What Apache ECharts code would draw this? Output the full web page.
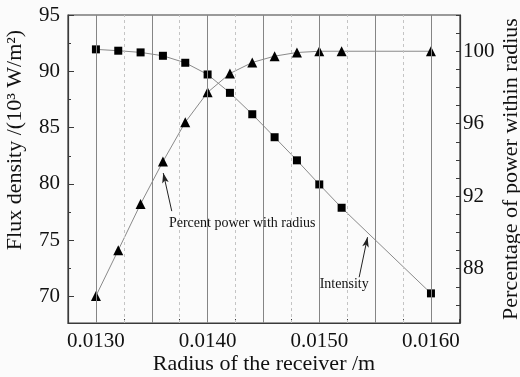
<!DOCTYPE html>
<html>
<head>
<meta charset="utf-8">
<script src="https://cdn.jsdelivr.net/npm/echarts@6/dist/echarts.min.js"></script>
<style>
  html, body { margin: 0; padding: 0; background: #fbfbfb; }
  #chart { width: 520px; height: 377px; }
</style>
</head>
<body>
<div id="chart"></div>
<script>
// receiver radius (m)
const radius = [0.0130, 0.0132, 0.0134, 0.0136, 0.0138, 0.0140, 0.0142, 0.0144, 0.0146, 0.0148, 0.0150, 0.0152, 0.0160];
// flux density, 10^3 W/m^2 (left axis)
const intensity = [91.95, 91.83, 91.68, 91.38, 90.76, 89.72, 88.09, 86.19, 84.15, 82.10, 79.96, 77.89, 70.29];
// percentage of power within radius (right axis)
const percentPower = [86.49, 89.02, 91.57, 93.91, 96.08, 97.73, 98.77, 99.38, 99.73, 99.93, 100.0, 100.0, 100.0];

// axis ranges
const xRange = [0.01275, 0.01626];
const fluxRange = [67.66, 95];
const pctRange = [85, 102];

// vertical grid lines
const majorGridX = [0.0130, 0.0135, 0.0140, 0.0145, 0.0150, 0.0155, 0.0160];
const minorGridX = [0.01325, 0.01375, 0.01425, 0.01475, 0.01525, 0.01575];

// annotations, in left-axis coordinates
const noteLabels = ["Percent power with radius", "Intensity"];
const noteTextAt = [[0.013654, 76.52], [0.015223, 71.07]];
const noteAlign = ["left", "center"];
const arrowFrom = [[0.013679, 77.59], [0.015357, 71.72]];
const arrowTo = [[0.013603, 80.97], [0.015432, 75.28]];

const FONT = "Liberation Serif";
const ink = "#111";
const axisColor = "#3a3a3a";

const chart = echarts.init(document.getElementById("chart"));

const isThousandth = (v) => Math.abs(v * 1000 - Math.round(v * 1000)) < 1e-6;
const intensityPts = radius.map((r, i) => [r, intensity[i]]);
const vline = (x, style) => [
  { coord: [x, fluxRange[0]], lineStyle: style },
  { coord: [x, fluxRange[1]] },
];

chart.setOption({
  animation: false,
  backgroundColor: "#fbfbfb",
  textStyle: { fontFamily: FONT, color: ink },
  grid: {
    left: 68, right: 60, top: 15, bottom: 54,
    outerBoundsMode: "none",
    show: true, borderColor: axisColor, borderWidth: 1.2,
    backgroundColor: "transparent",
  },
  xAxis: {
    type: "value",
    min: xRange[0],
    max: xRange[1],
    interval: 0.00025,
    name: "Radius of the receiver /m",
    nameLocation: "middle",
    nameMoveOverlap: false,
    nameGap: 30,
    nameTextStyle: { fontFamily: FONT, fontSize: 22, color: ink },
    axisLine: { show: true, lineStyle: { color: axisColor, width: 1.2 } },
    axisTick: { show: true, inside: true, length: 4, lineStyle: { color: axisColor } },
    axisLabel: {
      fontFamily: FONT, fontSize: 21, color: ink, margin: 8,
      showMinLabel: false, showMaxLabel: false,
      formatter: (v) => (isThousandth(v) ? v.toFixed(4) : ""),
    },
    splitLine: { show: false },
  },
  yAxis: [
    {
      type: "value",
      min: fluxRange[0],
      max: fluxRange[1],
      name: "Flux density /(10³ W/m²)",
      nameLocation: "middle",
      nameMoveOverlap: false,
      nameRotate: 90,
      nameGap: 42,
      nameTextStyle: { fontFamily: FONT, fontSize: 22, color: ink, padding: [0, 0, 0, 58] },
      axisLine: { show: true, lineStyle: { color: axisColor, width: 1.2 } },
      axisTick: { show: true, inside: true, length: 6, lineStyle: { color: axisColor } },
      minorTick: { show: true, splitNumber: 2, length: 3, lineStyle: { color: axisColor } },
      axisLabel: { fontFamily: FONT, fontSize: 21, color: ink, margin: 8, showMinLabel: false },
      splitLine: { show: false },
    },
    {
      type: "value",
      position: "right",
      min: pctRange[0],
      max: pctRange[1],
      interval: 1,
      name: "Percentage of power within radius",
      nameLocation: "middle",
      nameMoveOverlap: false,
      nameRotate: 90,
      nameGap: 40,
      nameTextStyle: { fontFamily: FONT, fontSize: 22, color: ink },
      axisLine: { show: true, lineStyle: { color: axisColor, width: 1.2 } },
      axisTick: { show: true, inside: true, length: 4, lineStyle: { color: axisColor } },
      axisLabel: {
        fontFamily: FONT, fontSize: 21, color: ink, margin: 3,
        formatter: (v) => (Math.round(v) % 4 === 0 ? String(Math.round(v)) : ""),
      },
      splitLine: { show: false },
    },
  ],
  series: [
    {
      // invisible carrier for the vertical grid lines
      name: "grid",
      type: "line",
      data: intensityPts,
      showSymbol: false,
      lineStyle: { opacity: 0 },
      z: 1,
      silent: true,
      markLine: {
        silent: true,
        symbol: ["none", "none"],
        label: { show: false },
        data: [
          ...majorGridX.map((x) => vline(x, { color: "#858585", width: 1, type: "solid", opacity: 1 })),
          ...minorGridX.map((x) => vline(x, { color: "#c4c4c4", width: 1, type: [3, 3], opacity: 1 })),
        ],
      },
    },
    {
      name: "Intensity",
      type: "line",
      yAxisIndex: 0,
      z: 3,
      data: intensityPts,
      symbol: "rect",
      symbolSize: 8,
      lineStyle: { color: "#8a8a8a", width: 1 },
      itemStyle: { color: "#000" },
    },
    {
      name: "Percent power with radius",
      type: "line",
      yAxisIndex: 1,
      z: 3,
      data: radius.map((r, i) => [r, percentPower[i]]),
      symbol: "triangle",
      symbolSize: 10,
      lineStyle: { color: "#8a8a8a", width: 1 },
      itemStyle: { color: "#000" },
    },
    {
      name: "notes",
      type: "line",
      yAxisIndex: 0,
      data: intensityPts,
      showSymbol: false,
      lineStyle: { opacity: 0 },
      z: 4,
      silent: true,
      markLine: {
        silent: true,
        symbol: ["none", "arrow"],
        symbolSize: [5, 10],
        label: { show: false },
        lineStyle: { color: "#222", width: 1, type: "solid", opacity: 1 },
        data: arrowFrom.map((a, i) => [{ coord: a }, { coord: arrowTo[i] }]),
      },
      markPoint: {
        silent: true,
        symbol: "circle",
        symbolSize: 0,
        data: noteLabels.map((t, i) => ({
          coord: noteTextAt[i],
          label: {
            show: true,
            position: "inside",
            align: noteAlign[i],
            verticalAlign: "middle",
            formatter: t,
            fontFamily: FONT,
            fontSize: 14,
            color: ink,
          },
        })),
      },
    },
  ],
});
</script>
</body>
</html>
